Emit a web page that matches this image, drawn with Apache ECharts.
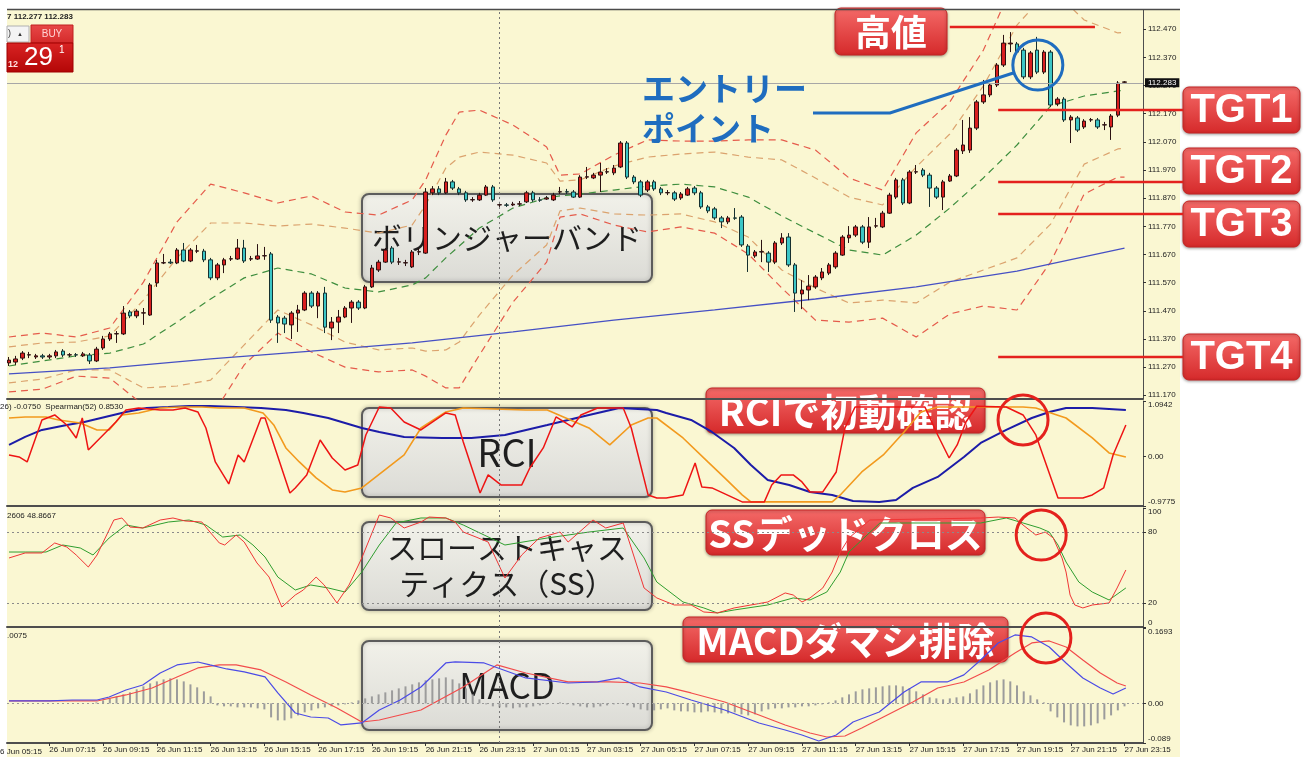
<!DOCTYPE html>
<html lang="ja">
<head>
<meta charset="UTF-8">
<title>USDJPY 15分足 ボリンジャーバンド / RCI / スローストキャスティクス / MACD</title>
<script src="https://cdn.jsdelivr.net/npm/echarts@6.0.0/dist/echarts.min.js"></script>
<style>
  html, body { margin: 0; padding: 0; background: #fff; }
  #main { width: 1308px; height: 757px; }
</style>
</head>
<body>
<div id="main"></div>
<script>
// ---- 時間軸ラベル（2時間ごと）と、その位置の足番号（0 = 26 Jun 05:45 の足）
var timeLabels = ['26 Jun 05:15', '26 Jun 07:15', '26 Jun 09:15', '26 Jun 11:15', '26 Jun 13:15', '26 Jun 15:15',
  '26 Jun 17:15', '26 Jun 19:15', '26 Jun 21:15', '26 Jun 23:15', '27 Jun 01:15', '27 Jun 03:15', '27 Jun 05:15',
  '27 Jun 07:15', '27 Jun 09:15', '27 Jun 11:15', '27 Jun 13:15', '27 Jun 15:15', '27 Jun 17:15', '27 Jun 19:15',
  '27 Jun 21:15', '27 Jun 23:15'];
var timeLabelBars = [-2, 6, 14, 22, 30, 38, 46, 54, 62, 70, 78, 86, 94, 102, 110, 118, 126, 134, 142, 150, 158, 166];
var dayStartBar = 73; // 27 Jun 00:00

// ---- 価格軸の目盛り
var priceTicks = [111.17, 111.27, 111.37, 111.47, 111.57, 111.67, 111.77, 111.87, 111.97, 112.07, 112.17, 112.27, 112.37, 112.47];

// ---- ローソク足 [始値, 終値, 安値, 高値]（15分足）
var candles = [
  [111.285, 111.295, 111.274, 111.306], [111.288, 111.299, 111.278, 111.310], [111.302, 111.320, 111.295, 111.327],
  [111.313, 111.314, 111.302, 111.324], [111.306, 111.310, 111.299, 111.317], [111.310, 111.306, 111.299, 111.317],
  [111.306, 111.310, 111.299, 111.317], [111.310, 111.324, 111.302, 111.331], [111.327, 111.313, 111.306, 111.334],
  [111.313, 111.314, 111.306, 111.320], [111.314, 111.313, 111.306, 111.320], [111.310, 111.317, 111.306, 111.324],
  [111.313, 111.292, 111.281, 111.320], [111.292, 111.334, 111.288, 111.342], [111.338, 111.370, 111.331, 111.381],
  [111.370, 111.388, 111.363, 111.395], [111.388, 111.389, 111.356, 111.398], [111.388, 111.462, 111.384, 111.487],
  [111.466, 111.452, 111.444, 111.473], [111.452, 111.469, 111.444, 111.476], [111.462, 111.463, 111.420, 111.480],
  [111.455, 111.562, 111.452, 111.569], [111.569, 111.640, 111.555, 111.651], [111.640, 111.641, 111.636, 111.672],
  [111.643, 111.640, 111.636, 111.654], [111.640, 111.686, 111.636, 111.693], [111.686, 111.647, 111.643, 111.711],
  [111.647, 111.686, 111.643, 111.693], [111.682, 111.683, 111.675, 111.704], [111.682, 111.651, 111.643, 111.690],
  [111.651, 111.587, 111.579, 111.658], [111.587, 111.633, 111.579, 111.640], [111.633, 111.651, 111.604, 111.658],
  [111.654, 111.655, 111.647, 111.665], [111.654, 111.693, 111.651, 111.725], [111.693, 111.647, 111.640, 111.722],
  [111.654, 111.655, 111.647, 111.665], [111.654, 111.665, 111.651, 111.707], [111.665, 111.666, 111.651, 111.697],
  [111.672, 111.437, 111.427, 111.679], [111.448, 111.427, 111.356, 111.455], [111.444, 111.423, 111.391, 111.452],
  [111.420, 111.462, 111.370, 111.469], [111.462, 111.473, 111.395, 111.491], [111.473, 111.533, 111.469, 111.540],
  [111.533, 111.487, 111.480, 111.540], [111.487, 111.533, 111.444, 111.540], [111.533, 111.412, 111.391, 111.555],
  [111.409, 111.430, 111.366, 111.448], [111.430, 111.448, 111.391, 111.473], [111.448, 111.480, 111.444, 111.487],
  [111.480, 111.501, 111.427, 111.508], [111.501, 111.480, 111.473, 111.508], [111.480, 111.555, 111.476, 111.562],
  [111.555, 111.622, 111.551, 111.633], [111.615, 111.643, 111.608, 111.651], [111.643, 111.686, 111.640, 111.693],
  [111.693, 111.643, 111.636, 111.700], [111.643, 111.644, 111.633, 111.658], [111.640, 111.641, 111.629, 111.651],
  [111.626, 111.679, 111.622, 111.686], [111.679, 111.680, 111.668, 111.693], [111.675, 111.892, 111.672, 111.906],
  [111.889, 111.903, 111.881, 111.913], [111.903, 111.889, 111.881, 111.913], [111.889, 111.928, 111.885, 111.942],
  [111.928, 111.906, 111.899, 111.935], [111.903, 111.889, 111.881, 111.910], [111.889, 111.864, 111.857, 111.896],
  [111.864, 111.865, 111.857, 111.874], [111.864, 111.881, 111.860, 111.889], [111.881, 111.910, 111.878, 111.917],
  [111.910, 111.864, 111.857, 111.917], [111.846, 111.847, 111.839, 111.857], [111.846, 111.845, 111.839, 111.853],
  [111.846, 111.849, 111.842, 111.857], [111.849, 111.850, 111.842, 111.860], [111.857, 111.889, 111.853, 111.896],
  [111.889, 111.864, 111.857, 111.896], [111.864, 111.863, 111.857, 111.874], [111.867, 111.871, 111.864, 111.878],
  [111.864, 111.881, 111.860, 111.889], [111.892, 111.893, 111.885, 111.910], [111.893, 111.892, 111.885, 111.903],
  [111.892, 111.874, 111.871, 111.899], [111.874, 111.945, 111.871, 111.952], [111.945, 111.946, 111.938, 111.981],
  [111.942, 111.952, 111.938, 111.960], [111.952, 111.963, 111.892, 111.995], [111.963, 111.964, 111.956, 111.977],
  [111.960, 111.977, 111.952, 111.988], [111.981, 112.066, 111.977, 112.073], [112.066, 111.945, 111.938, 112.073],
  [111.945, 111.928, 111.920, 111.952], [111.928, 111.881, 111.874, 111.935], [111.899, 111.928, 111.892, 111.935],
  [111.928, 111.903, 111.896, 111.935], [111.903, 111.889, 111.881, 111.910], [111.889, 111.890, 111.881, 111.899],
  [111.889, 111.867, 111.860, 111.896], [111.871, 111.885, 111.864, 111.892], [111.881, 111.903, 111.878, 111.910],
  [111.906, 111.889, 111.881, 111.913], [111.889, 111.839, 111.832, 111.896], [111.839, 111.825, 111.817, 111.846],
  [111.832, 111.800, 111.793, 111.839], [111.800, 111.786, 111.764, 111.807], [111.786, 111.800, 111.778, 111.807],
  [111.800, 111.799, 111.793, 111.835], [111.803, 111.704, 111.697, 111.810], [111.700, 111.668, 111.608, 111.707],
  [111.665, 111.679, 111.658, 111.686], [111.679, 111.680, 111.643, 111.722], [111.675, 111.643, 111.608, 111.682],
  [111.643, 111.711, 111.636, 111.718], [111.711, 111.729, 111.704, 111.746], [111.732, 111.633, 111.626, 111.746],
  [111.633, 111.533, 111.466, 111.640], [111.530, 111.544, 111.476, 111.579], [111.544, 111.558, 111.508, 111.597],
  [111.555, 111.590, 111.548, 111.597], [111.587, 111.608, 111.579, 111.622], [111.604, 111.633, 111.597, 111.640],
  [111.626, 111.675, 111.619, 111.682], [111.668, 111.732, 111.665, 111.739], [111.729, 111.739, 111.711, 111.771],
  [111.739, 111.768, 111.732, 111.775], [111.768, 111.714, 111.707, 111.775], [111.714, 111.768, 111.693, 111.803],
  [111.771, 111.772, 111.764, 111.800], [111.768, 111.817, 111.764, 111.825], [111.817, 111.881, 111.814, 111.889],
  [111.874, 111.935, 111.867, 111.942], [111.935, 111.853, 111.846, 111.942], [111.853, 111.963, 111.849, 111.970],
  [111.963, 111.964, 111.956, 111.988], [111.970, 111.952, 111.945, 111.977], [111.952, 111.906, 111.839, 111.960],
  [111.906, 111.874, 111.867, 111.913], [111.874, 111.928, 111.828, 111.935], [111.931, 111.949, 111.928, 111.956],
  [111.949, 112.041, 111.945, 112.048], [112.038, 112.059, 112.027, 112.148], [112.041, 112.119, 112.031, 112.158],
  [112.119, 112.212, 112.112, 112.219], [112.212, 112.237, 112.205, 112.290], [112.237, 112.272, 112.229, 112.279],
  [112.272, 112.343, 112.265, 112.350], [112.343, 112.421, 112.336, 112.450], [112.418, 112.421, 112.389, 112.460],
  [112.418, 112.389, 112.382, 112.425], [112.396, 112.301, 112.293, 112.404], [112.301, 112.386, 112.293, 112.393],
  [112.396, 112.318, 112.311, 112.443], [112.318, 112.389, 112.311, 112.396], [112.389, 112.201, 112.194, 112.396],
  [112.205, 112.222, 112.197, 112.229], [112.222, 112.148, 112.141, 112.229], [112.148, 112.158, 112.066, 112.165],
  [112.155, 112.112, 112.105, 112.162], [112.123, 112.144, 112.116, 112.151], [112.148, 112.149, 112.141, 112.155],
  [112.148, 112.123, 112.116, 112.155], [112.130, 112.131, 112.112, 112.141], [112.123, 112.162, 112.077, 112.169],
  [112.165, 112.279, 112.158, 112.286], [112.282, 112.283, 112.279, 112.286]
];

// ---- ボリンジャーバンド（読み取った足番号ごとの値）
var bandBars = [0, 5, 10, 15, 20, 25, 30, 35, 40, 45, 50, 55, 60, 62, 65, 67, 70, 75, 80, 82, 85, 90, 95, 100, 105,
  110, 115, 120, 125, 130, 135, 140, 145, 150, 155, 160, 165, 166];
var bandMid = [111.274, 111.292, 111.310, 111.320, 111.352, 111.430, 111.512, 111.587, 111.622, 111.601, 111.551,
  111.537, 111.562, 111.587, 111.658, 111.700, 111.764, 111.835, 111.871, 111.878, 111.885, 111.899, 111.913, 111.920,
  111.910, 111.874, 111.807, 111.746, 111.686, 111.668, 111.739, 111.835, 111.942, 112.059, 112.197, 112.233, 112.251, 112.254];
var bandUp2 = [111.342, 111.356, 111.359, 111.381, 111.508, 111.658, 111.782, 111.782, 111.771, 111.778, 111.764,
  111.746, 111.775, 111.846, 111.977, 112.016, 112.034, 112.023, 111.995, 111.931, 111.935, 111.984, 112.016, 112.027,
  112.034, 112.016, 112.006, 111.942, 111.874, 111.846, 111.981, 112.098, 112.269, 112.485, 112.617, 112.503, 112.457, 112.460];
var bandLow2 = [111.214, 111.228, 111.260, 111.260, 111.196, 111.203, 111.224, 111.349, 111.473, 111.420, 111.359,
  111.331, 111.338, 111.327, 111.331, 111.359, 111.455, 111.597, 111.704, 111.825, 111.835, 111.814, 111.810, 111.814,
  111.786, 111.732, 111.615, 111.551, 111.498, 111.508, 111.498, 111.572, 111.615, 111.658, 111.778, 111.991, 112.045, 112.048];
var bandUp3 = [111.377, 111.391, 111.377, 111.409, 111.572, 111.786, 111.920, 111.889, 111.853, 111.878, 111.821,
  111.810, 111.864, 111.935, 112.094, 112.176, 112.183, 112.130, 112.052, 111.952, 111.956, 112.023, 112.077, 112.073,
  112.073, 112.077, 112.077, 112.041, 111.942, 111.899, 112.102, 112.212, 112.396, 112.663, 112.752, 112.592, 112.556, 112.560];
var bandLow3 = [111.182, 111.192, 111.238, 111.231, 111.135, 111.075, 111.089, 111.278, 111.391, 111.324, 111.270,
  111.253, 111.260, 111.238, 111.196, 111.196, 111.313, 111.501, 111.643, 111.803, 111.814, 111.775, 111.750, 111.768,
  111.746, 111.672, 111.551, 111.437, 111.430, 111.444, 111.377, 111.459, 111.487, 111.473, 111.643, 111.885, 111.945, 111.945];

// ---- 長期移動平均
var maBars = [0, 15, 30, 45, 60, 75, 90, 105, 120, 135, 150, 166];
var maValues = [111.246, 111.267, 111.299, 111.327, 111.356, 111.395, 111.437, 111.473, 111.512, 111.555, 111.611, 111.693];

// ---- 現在値・高値・ターゲット
var bidPrice = 112.283;
var highLevel = 112.478;
var targetLevels = [112.183, 111.928, 111.814, 111.306];

// ---- RCI [足番号, 値]
var rciShort = [[0, 0.03], [1.5, -0.01], [2.7, -0.108], [4.9, 0.72], [6.8, 0.819], [8.6, 0.621], [10, 0.365], [10.9, 0.759],
  [11.8, 0.128], [14.3, 0.464], [15.9, 0.68], [17.4, 0.917], [19.3, 0.957], [22.5, 0.917], [24.4, 0.917], [26.2, 0.957],
  [28.1, 0.878], [29.3, 0.562], [30.7, -0.108], [32.7, -0.542], [34.1, 0.03], [35, -0.108], [37.5, 0.759], [38.1, 0.759],
  [41.8, -0.72], [42.6, -0.621], [44.3, -0.365], [46.3, 0.325], [48.1, -0.03], [50, -0.266], [51.9, -0.168], [53.1, 0.424],
  [55.1, 0.976], [56.8, 0.957], [58.8, 0.68], [61.3, 0.523], [65, 0.858], [66.4, 0.819], [67.6, 0.286], [70.1, -0.72],
  [71.3, -0.364], [73.2, -0.562], [76.3, -0.562], [77.5, -0.227], [79.5, 0.168], [81.4, 0.779], [83.8, 0.582], [85.1, 0.819],
  [87.6, 0.957], [91.4, 0.957], [92.6, 0.562], [95.1, -0.759], [96.4, -0.819], [97.8, -0.819], [100.3, -0.759], [102.1, -0.128],
  [103.1, -0.602], [104.6, -0.621], [109.1, -0.897], [112.4, -0.897], [113.5, -0.562], [114.9, -0.365], [116.7, -0.365],
  [118, -0.503], [119.2, -0.7], [121.1, -0.7], [123.1, -0.306], [124.4, 0.562], [125.9, 0.976], [136.3, 0.976], [138.2, 0.424],
  [139.9, -0.03], [141.1, 0.227], [142.4, 0.68], [144, 0.99], [148.4, 0.976], [150.9, 0.819], [152.8, 0.424], [156.1, -0.819],
  [159.8, -0.819], [161.2, -0.759], [162.9, -0.621], [164.3, 0.03], [166.2, 0.621]];
var rciMid = [[0, 0.759], [2.4, 0.779], [5.5, 0.779], [7.4, 0.72], [10.6, 0.661], [13.1, 0.523], [14.9, 0.523], [16.8, 0.819],
  [19.3, 0.858], [22.5, 0.957], [25.6, 0.976], [28.7, 0.976], [31.3, 0.957], [35, 0.957], [37.8, 0.858], [39.4, 0.621],
  [41.2, 0.168], [43.2, -0.108], [45.7, -0.424], [48.1, -0.661], [50, -0.7], [52.5, -0.621], [58.8, 0.03], [61.3, 0.562],
  [65, 0.878], [67.6, 0.957], [76.9, 0.917], [80.1, 0.917], [86.3, 0.562], [89.4, 0.227], [92.6, 0.621], [95.1, 0.759],
  [96.4, 0.759], [100.3, 0.365], [104, -0.108], [106.5, -0.424], [109.1, -0.759], [110.4, -0.897], [112.9, -0.897],
  [119.2, -0.897], [122.5, -0.897], [123.7, -0.759], [126.9, -0.306], [130.1, 0.03], [133.2, 0.483], [135.7, 0.878],
  [138.2, 0.976], [144.6, 0.976], [150.9, 0.976], [152.8, 0.957], [157.3, 0.759], [161.2, 0.365], [163.7, 0.069], [166.2, -0.01]];
var rciLong = [[0, 0.227], [2.4, 0.385], [4.9, 0.523], [8.6, 0.621], [11.2, 0.68], [14.3, 0.779], [17.4, 0.878], [20.5, 0.957],
  [23.7, 0.976], [26.8, 0.996], [29.9, 0.996], [33.8, 0.976], [37.5, 0.957], [41.2, 0.917], [43.8, 0.858], [47.5, 0.759],
  [50, 0.661], [52.5, 0.562], [55.1, 0.483], [58.8, 0.385], [64.4, 0.365], [68.8, 0.365], [73.8, 0.424], [80.1, 0.621],
  [86.3, 0.819], [90.8, 0.957], [96.4, 0.917], [97.8, 0.858], [101.5, 0.72], [104.6, 0.483], [107.9, 0.168], [110.4, -0.168],
  [112.9, -0.464], [116.1, -0.562], [119.2, -0.7], [122.5, -0.759], [125.6, -0.878], [129.5, -0.897], [132, -0.858],
  [134.5, -0.621], [138.2, -0.404], [142.1, -0.01], [144.6, 0.266], [148.4, 0.523], [152.2, 0.759], [154.8, 0.878],
  [157.3, 0.957], [161.2, 0.957], [163.7, 0.937], [166.2, 0.917]];

// ---- スローストキャスティクス [足番号, 値]
var stochK = [[0, 58], [2.4, 62.2], [4.9, 62.2], [6.8, 70.6], [8.6, 67.2], [10, 60.5], [11.8, 50.4], [13.1, 60.5], [15.6, 89.9],
  [16.8, 91.6], [18, 84], [19.9, 83.2], [22.5, 89.9], [24.4, 91.6], [26.2, 89.1], [28.7, 88.2], [29.9, 79.8], [31.3, 70.6],
  [32.1, 68.9], [33.8, 77.3], [35, 71.4], [36.9, 53.8], [38.7, 42], [40.6, 16.8], [42.6, 26.9], [43.8, 31.1], [45.7, 42],
  [46.9, 35.3], [48.8, 20.2], [50.6, 35.3], [52.5, 58], [55.1, 94.1], [56.8, 91.6], [58.8, 83.2], [61.3, 88.2], [62.5, 92.4],
  [65, 91.6], [66.4, 88.2], [67.6, 79.8], [69.5, 75.6], [71.3, 71.4], [73.8, 41.2], [76.3, 60.5], [78.9, 74.8], [82, 79.8],
  [83.2, 71.4], [86.9, 89.9], [88.8, 83.2], [91.4, 87.4], [92.6, 66.4], [94.5, 32.8], [96.4, 24.4], [99, 18.5], [101.5, 18.5],
  [103.4, 12.6], [105.4, 11.8], [107.9, 16], [110.4, 18.5], [112.9, 21], [115.5, 28.6], [116.7, 26.9], [118, 21], [119.2, 24.4],
  [121.1, 32.8], [122.5, 46.2], [123.7, 63], [125, 74.8], [128.1, 89.9], [144.6, 91.6], [147.2, 92.4], [149.7, 91.6],
  [150.9, 85.7], [152.8, 77.3], [154.2, 79.8], [155.4, 74.8], [156.7, 58], [157.3, 46.2], [157.9, 26.9], [158.6, 18.5],
  [159.8, 16], [161.2, 18.5], [163.7, 20.2], [164.9, 32.8], [166.2, 47.9]];
var stochD = [[0, 63], [2.4, 63], [5.5, 63], [8, 68.9], [10.6, 66.4], [12.5, 60.5], [14.9, 74.8], [17.4, 85.7], [19.9, 83.2],
  [23.7, 88.2], [26.8, 89.9], [29.3, 85.7], [31.8, 75.6], [34.4, 77.3], [36.3, 68.9], [38.1, 58.8], [40, 42], [42.6, 31.1],
  [44.9, 35.3], [47.5, 32.8], [50, 29.4], [52.5, 46.2], [55.1, 68.9], [57.6, 87.4], [61.3, 91.6], [65, 91.6], [67.6, 85.7],
  [70.7, 77.3], [73.8, 68.9], [80.1, 74.8], [86.3, 79.8], [91.4, 83.2], [94.5, 58], [96.4, 37.8], [100.3, 21], [103.4, 16],
  [105.4, 11.8], [107.9, 14.3], [112.9, 18.5], [116.7, 24.4], [119.2, 22.7], [121.7, 29.4], [123.7, 46.2], [125, 63],
  [129.6, 87.4], [144.6, 87.4], [148.4, 91.6], [150.9, 87.4], [153.4, 83.2], [154.8, 79.8], [156.1, 68.9], [157.3, 54.6],
  [159.2, 37.8], [161.2, 29.4], [163.7, 22.7], [166.2, 32.8]];

// ---- MACD [足番号, 値] とヒストグラム（足ごと）
var macdMain = [[0, 0.0054], [6.1, 0.0054], [9.4, 0.0076], [13.1, 0.0076], [14.9, 0.0144], [17.4, 0.0301], [19.9, 0.0413],
  [22.5, 0.0683], [25, 0.0863], [28.1, 0.093], [29.9, 0.0863], [32.4, 0.0773], [35, 0.0706], [38.1, 0.0594], [40, 0.0234],
  [42.6, -0.0216], [44.9, -0.0306], [47.5, -0.0328], [49.4, -0.0485], [52.5, -0.044], [55.1, -0.0148], [58.2, 0.0076],
  [61.3, 0.0369], [65, 0.0908], [66.4, 0.093], [70.7, 0.0908], [76.9, 0.0571], [83.2, 0.0458], [87.6, 0.0481], [90.8, 0.0571],
  [93.9, 0.0369], [97.8, 0.0256], [101.5, 0.0076], [106.5, -0.0148], [111.6, -0.044], [115.5, -0.0598], [118, -0.071],
  [120.5, -0.0845], [123.1, -0.071], [125.6, -0.0418], [129.5, -0.0193], [133.2, 0.0256], [135.7, 0.0481], [139.6, 0.0481],
  [142.1, 0.0639], [144.6, 0.0975], [147.2, 0.1357], [149.7, 0.1537], [152.2, 0.1492], [154.8, 0.1267], [157.3, 0.0908],
  [159.8, 0.0571], [162.4, 0.0346], [164.3, 0.0211], [166.2, 0.0346]];
var macdSignal = [[0, 0.0054], [13.1, 0.0054], [17.4, 0.0189], [21.3, 0.0346], [25, 0.0594], [28.1, 0.0796], [31.3, 0.0863],
  [33.8, 0.0863], [37.5, 0.0751], [41.2, 0.0481], [44.9, 0.0189], [48.8, -0.0103], [52.5, -0.0418], [55.1, -0.0373],
  [61.3, -0.0148], [67.6, 0.0369], [72.6, 0.0863], [76.9, 0.0683], [83.2, 0.0481], [89.4, 0.0481], [93.9, 0.0458],
  [97.8, 0.0369], [101.5, 0.0234], [106.5, 0.0031], [111.6, -0.0261], [115.5, -0.0485], [119.2, -0.0665], [121.7, -0.0755],
  [124.4, -0.0733], [126.9, -0.0553], [130.7, -0.0261], [134.5, 0.0031], [138.2, 0.0346], [142.1, 0.0481], [145.8, 0.0751],
  [149.7, 0.1133], [152.2, 0.1357], [154.8, 0.1402], [157.3, 0.1267], [159.8, 0.0975], [162.4, 0.0683], [164.9, 0.0458],
  [166.2, 0.0391]];
var macdHist = [0, 0, 0, 0, 0, 0, 0, 0, 0, 0, 0, 0, 0,
  0.0022, 0.0067, 0.0112, 0.0157, 0.0202, 0.0247, 0.0315, 0.0382, 0.0449, 0.0494, 0.0539, 0.0562, 0.0539, 0.0494, 0.0427, 0.036, 0.027, 0.0157,
  -0.0045, -0.0067, -0.0067, -0.009, -0.009, -0.009, -0.0112, -0.0135, -0.0315, -0.0382, -0.0382, -0.0337, -0.027, -0.0202, -0.0157, -0.0112, -0.009, -0.0067, -0.0045, -0.0022,
  0.0022, 0.0067, 0.0112, 0.0157, 0.0202, 0.0247, 0.0292, 0.0337, 0.0382, 0.0427, 0.0472, 0.0517, 0.0539, 0.0562, 0.0584, 0.0539, 0.0449, 0.0337, 0.0202, 0.009,
  -0.0022, -0.0067, -0.009, -0.009, -0.0112, -0.009, -0.009, -0.0067, -0.0045, -0.0022, 0.0005, 0.0022, -0.0022, -0.0045, -0.0067, -0.009, -0.009, -0.0067, -0.0045, -0.0022,
  0.0005, -0.0045, -0.009, -0.0135, -0.0157, -0.0157, -0.0135, -0.0112, -0.0157, -0.018, -0.018, -0.0202, -0.0202, -0.018, -0.0202, -0.0225, -0.0225, -0.0202, -0.0247, -0.027,
  -0.0247, -0.018, -0.0135, -0.0112, -0.0112, -0.009, -0.009, -0.0067, -0.0067, -0.0045, -0.0022, 0.0022, 0.0067, 0.0135, 0.0202, 0.027, 0.0315, 0.0337, 0.036, 0.0382,
  0.0404, 0.0404, 0.0382, 0.0337, 0.027, 0.0202, 0.0135, 0.0112, 0.009, 0.0112, 0.0135, 0.0157, 0.0225, 0.0315, 0.0404, 0.0472, 0.0517, 0.0539, 0.0494, 0.0404,
  0.027, 0.018, 0.009, 0.0022, -0.018, -0.0315, -0.0427, -0.0494, -0.0517, -0.0517, -0.0494, -0.0449, -0.036, -0.027, -0.0157, -0.0067];

// ---------------------------------------------------------------
var chart = echarts.init(document.getElementById('main'));

var BG = '#FAF7D2';
var AXIS = '#4E4E4E';
var TXT = '#222';
var LATIN = '"Liberation Sans", Arial, sans-serif';
var JP = '"Noto Sans CJK JP", sans-serif';

function pairs(bars, vals) {
  return bars.map(function (b, k) { return [b, vals[k]]; });
}

function line(gi, data, color, width, dash) {
  return {
    type: 'line', xAxisIndex: gi, yAxisIndex: gi, data: data,
    showSymbol: false, symbol: 'none', silent: true, z: 2,
    lineStyle: { color: color, width: width, type: dash || 'solid' }
  };
}

function dayLine(extra) {
  return {
    silent: true, symbol: ['none', 'none'], label: { show: false },
    lineStyle: { color: '#777', type: [2, 3], width: 1 },
    data: [{ xAxis: dayStartBar }].concat(extra || [])
  };
}

// グリッド：メイン / RCI / SS / MACD
var gridTops = [10, 401, 508, 628];
var gridHeights = [389, 105, 119, 115];
var grids = gridTops.map(function (t, k) {
  return { left: 7, right: 165, top: t, height: gridHeights[k], show: false };
});

var xAxes = grids.map(function (g, k) {
  var last = k === 3;
  return {
    type: 'value', gridIndex: k, min: -0.3, max: 168.75,
    axisLine: { show: true, onZero: false, lineStyle: { color: AXIS, width: 2 } },
    axisTick: { show: last, customValues: timeLabelBars.slice(1), length: 3, lineStyle: { color: '#333' } },
    axisLabel: {
      show: last, customValues: timeLabelBars.slice(1), align: 'left', margin: 3,
      fontSize: 8, color: TXT, fontFamily: LATIN,
      formatter: function (v) { return timeLabels[timeLabelBars.indexOf(Math.round(v))] || ''; }
    },
    splitLine: { show: false }
  };
});

function sideAxis(k, min, max, ticks, fmt) {
  return {
    type: 'value', gridIndex: k, position: 'right', min: min, max: max,
    axisLine: { show: true, onZero: false, lineStyle: { color: AXIS, width: 1 } },
    axisTick: { show: true, customValues: ticks, length: 3, lineStyle: { color: '#333' } },
    axisLabel: {
      customValues: ticks, formatter: fmt, margin: 5, fontSize: 8, color: TXT, fontFamily: LATIN,
      verticalAlignMinLabel: 'bottom', verticalAlignMaxLabel: 'top'
    },
    splitLine: { show: false }
  };
}

var yAxes = [
  sideAxis(0, 111.1568, 112.5385, priceTicks, function (v) { return v.toFixed(3); }),
  sideAxis(1, -0.9775, 1.0942, [-0.9775, 0, 1.0942], function (v) { return v === 0 ? '0.00' : String(v); }),
  sideAxis(2, 0, 100, [0, 20, 80, 100], function (v) { return String(v); }),
  sideAxis(3, -0.089, 0.1693, [-0.089, 0, 0.1693], function (v) { return v === 0 ? '0.00' : String(v); })
];
yAxes[0].axisLabel.verticalAlignMinLabel = null;
yAxes[0].axisLabel.verticalAlignMaxLabel = null;

var bandDash = [7, 5];
var series = [
  line(0, pairs(bandBars, bandUp3), '#E55B4B', 1.2, bandDash),
  line(0, pairs(bandBars, bandLow3), '#E55B4B', 1.2, bandDash),
  line(0, pairs(bandBars, bandUp2), '#DBA36E', 1.2, bandDash),
  line(0, pairs(bandBars, bandLow2), '#DBA36E', 1.2, bandDash),
  line(0, pairs(bandBars, bandMid), '#3E8E3E', 1.2, bandDash),
  line(0, pairs(maBars, maValues), '#4650C4', 1.3),
  {
    type: 'candlestick', xAxisIndex: 0, yAxisIndex: 0, silent: true, z: 3,
    data: candles.map(function (c, i) { return [i, c[0], c[1], c[2], c[3]]; }),
    encode: { x: 0, y: [1, 2, 3, 4] },
    barWidth: 4,
    itemStyle: { color: '#D91F1F', color0: '#3CC6C6', borderColor: '#2B1212', borderColor0: '#163030', borderWidth: 1 },
    markLine: {
      silent: true, symbol: ['none', 'none'],
      data: [
        { xAxis: dayStartBar, label: { show: false }, lineStyle: { color: '#777', type: [2, 3], width: 1 } },
        {
          yAxis: bidPrice, lineStyle: { color: '#A7A7A7', type: 'solid', width: 1 },
          label: {
            show: true, position: 'end', distance: 2, formatter: bidPrice.toFixed(3),
            backgroundColor: '#111', color: '#fff', padding: [1, 3, 0, 3], fontSize: 8, fontFamily: LATIN
          }
        }
      ]
    }
  },
  Object.assign(line(1, rciLong, '#1C1CA8', 2), { markLine: dayLine() }),
  line(1, rciMid, '#F29A1E', 1.6),
  line(1, rciShort, '#EE1414', 1.5),
  Object.assign(line(2, stochD, '#2F9E2F', 1), {
    markLine: dayLine([
      { yAxis: 80, lineStyle: { color: '#8A8A8A', type: [2, 3], width: 1 } },
      { yAxis: 20, lineStyle: { color: '#8A8A8A', type: [2, 3], width: 1 } }
    ])
  }),
  line(2, stochK, '#F03535', 1),
  {
    type: 'bar', xAxisIndex: 3, yAxisIndex: 3, silent: true, barWidth: 2,
    data: macdHist.map(function (v, i) { return [i, v]; }),
    itemStyle: { color: '#9C9C9C' },
    markLine: dayLine([{ yAxis: 0, lineStyle: { color: '#9A9A9A', type: [2, 3], width: 1 } }])
  },
  line(3, macdSignal, '#F24C4C', 1.2),
  line(3, macdMain, '#4B4BE6', 1.2)
];

chart.setOption({
  backgroundColor: '#ffffff',
  animation: false,
  grid: grids,
  xAxis: xAxes,
  yAxis: yAxes,
  series: series
});

// ---------------------------------------------------------------
// 注釈（グラフィック）
function px(gi, x, y) { return chart.convertToPixel({ gridIndex: gi }, [x, y]); }

function grad(c1, c2) {
  return { type: 'linear', x: 0, y: 0, x2: 0, y2: 1, colorStops: [{ offset: 0, color: c1 }, { offset: 1, color: c2 }] };
}

function redTag(x, y, w, h, text, size, fontFamily) {
  return {
    type: 'group', x: x, y: y, z: 120,
    children: [
      {
        type: 'rect', shape: { x: 0, y: 0, width: w, height: h, r: 6 },
        style: { fill: grad('#F46A68', '#D5292A'), stroke: '#C62424', lineWidth: 1, shadowBlur: 3, shadowOffsetY: 1, shadowColor: 'rgba(0,0,0,0.35)' }
      },
      {
        type: 'text', x: w / 2, y: h / 2 + 1,
        style: { text: text, fill: '#fff', font: 'bold ' + size + 'px ' + (fontFamily || JP), textAlign: 'center', textVerticalAlign: 'middle' }
      }
    ]
  };
}

function grayBox(x, y, w, h, text, size, lh) {
  return {
    type: 'group', x: x, y: y, z: 110,
    children: [
      {
        type: 'rect', shape: { x: 0, y: 0, width: w, height: h, r: 7 },
        style: { fill: grad('rgba(252,252,250,0.80)', 'rgba(222,222,220,0.88)'), stroke: '#5C5C5C', lineWidth: 2, shadowBlur: 4, shadowColor: 'rgba(0,0,0,0.25)' }
      },
      {
        type: 'text', x: w / 2, y: h / 2,
        style: { text: text, fill: '#1E1E1E', font: size + 'px ' + JP, textAlign: 'center', textVerticalAlign: 'middle', lineHeight: lh || size }
      }
    ]
  };
}

function circle(c, r, color) {
  return { type: 'circle', z: 115, shape: { cx: c[0], cy: c[1], r: r }, style: { fill: 'none', stroke: color, lineWidth: 3 } };
}

var RED = '#E4211D';
var BLUE = '#1F6DBF';
var g = [];

// 背景
g.push({ type: 'rect', z: -10, silent: true, shape: { x: 7, y: 9, width: 1173, height: 748 }, style: { fill: BG } });
g.push({ type: 'line', z: 5, shape: { x1: 7, y1: 9.5, x2: 1180, y2: 9.5 }, style: { stroke: '#4A4A4A', lineWidth: 1.5 } });

// ヘッダー
g.push({ type: 'text', z: 20, x: 7, y: 17, style: { text: '7 112.277 112.283', fill: '#222', font: 'bold 8px ' + LATIN, textVerticalAlign: 'middle' } });
g.push({ type: 'text', z: 20, x: 0, y: 407, style: { text: '26) -0.0750  Spearman(52) 0.8530', fill: '#222', font: '8px ' + LATIN, textVerticalAlign: 'middle' } });
g.push({ type: 'text', z: 20, x: 7, y: 516, style: { text: '2606 48.8667', fill: '#222', font: '8px ' + LATIN, textVerticalAlign: 'middle' } });
g.push({ type: 'text', z: 20, x: 7, y: 636, style: { text: '.0075', fill: '#222', font: '8px ' + LATIN, textVerticalAlign: 'middle' } });

// ワンクリック注文パネル
g.push({ type: 'rect', z: 20, shape: { x: 7, y: 26, width: 22, height: 16 }, style: { fill: '#F4F4F4', stroke: '#B0B0B0', lineWidth: 1 } });
g.push({ type: 'text', z: 21, x: 8, y: 34, style: { text: ')', fill: '#333', font: '9px ' + LATIN, textVerticalAlign: 'middle' } });
g.push({ type: 'text', z: 21, x: 20, y: 34, style: { text: '▲', fill: '#333', font: '6px ' + LATIN, textAlign: 'center', textVerticalAlign: 'middle' } });
g.push({ type: 'rect', z: 20, shape: { x: 31, y: 25, width: 42, height: 18 }, style: { fill: grad('#E84848', '#D42A2A'), stroke: '#C02020', lineWidth: 1 } });
g.push({ type: 'text', z: 21, x: 52, y: 34, style: { text: 'BUY', fill: '#FFD2D2', font: '10px ' + LATIN, textAlign: 'center', textVerticalAlign: 'middle' } });
g.push({ type: 'rect', z: 20, shape: { x: 7, y: 43, width: 66, height: 29 }, style: { fill: grad('#D92424', '#B30606'), stroke: '#A00000', lineWidth: 1 } });
g.push({ type: 'text', z: 21, x: 8, y: 65, style: { text: '12', fill: '#FFE0E0', font: 'bold 9px ' + LATIN, textVerticalAlign: 'middle' } });
g.push({ type: 'text', z: 21, x: 24, y: 58, style: { text: '29', fill: '#fff', font: '26px ' + LATIN, textVerticalAlign: 'middle' } });
g.push({ type: 'text', z: 21, x: 59, y: 50, style: { text: '1', fill: '#fff', font: '10px ' + LATIN, textVerticalAlign: 'middle' } });

// 左端で切れている時間ラベル
var firstTick = px(3, timeLabelBars[0], 0);
g.push({ type: 'text', z: 20, x: firstTick[0], y: 752, style: { text: timeLabels[0], fill: TXT, font: '8px ' + LATIN, textVerticalAlign: 'middle' } });

// 説明ボックス
g.push(grayBox(362, 194, 290, 88, 'ボリンジャーバンド', 30));
g.push(grayBox(362, 408, 290, 89, 'RCI', 38));
g.push(grayBox(362, 522, 290, 88, 'スローストキャス\nティクス（SS）', 30, 36));
g.push(grayBox(362, 641, 290, 89, 'MACD', 35));

// 高値・ターゲットライン
var h0 = px(0, 140, highLevel), h1 = px(0, 161.6, highLevel);
g.push({ type: 'line', z: 100, shape: { x1: h0[0], y1: h0[1], x2: h1[0], y2: h1[1] }, style: { stroke: RED, lineWidth: 2.5 } });
targetLevels.forEach(function (v) {
  var a = px(0, 147.2, v);
  g.push({ type: 'line', z: 100, shape: { x1: a[0], y1: a[1], x2: 1183, y2: a[1] }, style: { stroke: RED, lineWidth: 2.5 } });
});

// エントリーポイント
var entry = px(0, 153.1, 112.343);
var er = 25;
var elbow = [890, 113];
var dx = entry[0] - elbow[0], dy = entry[1] - elbow[1], dl = Math.sqrt(dx * dx + dy * dy);
g.push({
  type: 'polyline', z: 115,
  shape: { points: [[813, 113], elbow, [entry[0] - er * dx / dl, entry[1] - er * dy / dl]] },
  style: { stroke: BLUE, lineWidth: 3, fill: 'none' }
});
g.push(circle(entry, er, BLUE));
g.push({
  type: 'text', z: 115, x: 642, y: 108,
  style: { text: 'エントリー\nポイント', fill: BLUE, font: 'bold 33px ' + JP, textVerticalAlign: 'middle', lineHeight: 40 }
});

// 確認ポイントの円
g.push(circle(px(1, 150.9, 0.72), 25, RED));
g.push(circle(px(2, 153.6, 77.3), 25, RED));
g.push(circle(px(3, 154.3, 0.147), 25, RED));

// 赤いラベル
g.push(redTag(835, 8, 112, 47, '高値', 36));
g.push(redTag(1183, 87, 117, 46, 'TGT1', 40, LATIN));
g.push(redTag(1183, 148, 117, 46, 'TGT2', 40, LATIN));
g.push(redTag(1183, 201, 117, 46, 'TGT3', 40, LATIN));
g.push(redTag(1183, 334, 117, 46, 'TGT4', 40, LATIN));
g.push(redTag(706, 388, 279, 45, 'RCIで初動確認', 38));
g.push(redTag(706, 510, 279, 45, 'SSデッドクロス', 38));
g.push(redTag(683, 617, 325, 45, 'MACDダマシ排除', 38));

chart.setOption({ graphic: { elements: g } });
</script>
</body>
</html>
